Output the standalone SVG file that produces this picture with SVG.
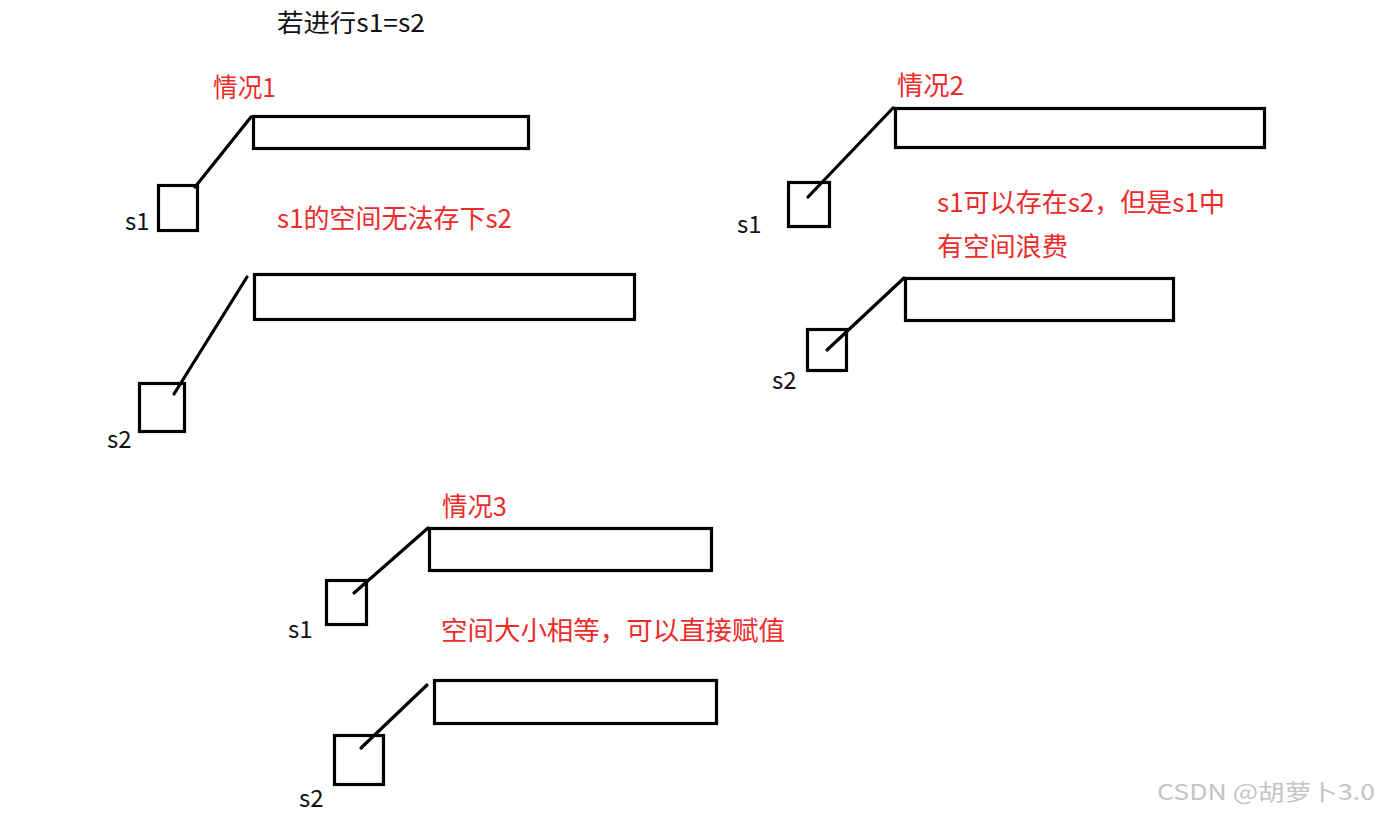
<svg xmlns="http://www.w3.org/2000/svg" width="1379" height="815" viewBox="0 0 1379 815">
<style>
.box{fill:none;stroke:#000;stroke-width:3.2}
.ln{stroke:#000;stroke-width:3.2;stroke-linecap:round}
.t{font-family:"Microsoft YaHei","Noto Sans CJK SC","Noto Sans",sans-serif;font-size:24px;fill:#111}
.r{font-family:"Microsoft YaHei","Noto Sans CJK SC","Noto Sans",sans-serif;font-size:26px;fill:#ee2b2b}
.wm{font-family:"Noto Sans CJK SC","Noto Sans",sans-serif;font-size:22px;fill:#c4c4c4}
</style>
<rect width="1379" height="815" fill="#fff"/>
<text class="t" x="277" y="32" style="font-size:25px" textLength="148" lengthAdjust="spacingAndGlyphs">若进行s1=s2</text>

<g id="case1">
  <text class="r" x="213" y="97" textLength="63" lengthAdjust="spacingAndGlyphs">情况1</text>
  <text class="r" x="277" y="228" textLength="235" lengthAdjust="spacingAndGlyphs">s1的空间无法存下s2</text>
  <g id="c1-s1"><rect class="box" x="158.5" y="185.5" width="39" height="45"/><text class="t" x="125" y="230">s1</text></g>
  <g id="c1-s1-buf"><rect class="box" x="253.5" y="116.5" width="275" height="32"/></g>
  <g id="c1-s2"><rect class="box" x="139.5" y="383.5" width="45" height="48"/><text class="t" x="107" y="448">s2</text></g>
  <g id="c1-s2-buf"><rect class="box" x="254.5" y="274.5" width="380" height="45"/></g>
</g>

<g id="case2">
  <text class="r" x="897" y="95" textLength="67" lengthAdjust="spacingAndGlyphs">情况2</text>
  <text class="r" x="937" y="212" textLength="288" lengthAdjust="spacingAndGlyphs">s1可以存在s2，但是s1中</text>
  <text class="r" x="937" y="256" textLength="131" lengthAdjust="spacingAndGlyphs">有空间浪费</text>
  <g id="c2-s1"><rect class="box" x="788.5" y="182.5" width="41" height="44"/><text class="t" x="737" y="233">s1</text></g>
  <g id="c2-s1-buf"><rect class="box" x="895.5" y="108.5" width="369" height="39"/></g>
  <g id="c2-s2"><rect class="box" x="807.5" y="329.5" width="39" height="41"/><text class="t" x="772" y="389">s2</text></g>
  <g id="c2-s2-buf"><rect class="box" x="905.5" y="278.5" width="268" height="42"/></g>
</g>

<g id="case3">
  <text class="r" x="442" y="516" textLength="65" lengthAdjust="spacingAndGlyphs">情况3</text>
  <text class="r" x="441" y="640" textLength="344" lengthAdjust="spacingAndGlyphs">空间大小相等，可以直接赋值</text>
  <g id="c3-s1"><rect class="box" x="326.5" y="580.5" width="40" height="44"/><text class="t" x="288" y="638">s1</text></g>
  <g id="c3-s1-buf"><rect class="box" x="429.5" y="528.5" width="282" height="42"/></g>
  <g id="c3-s2"><rect class="box" x="334.5" y="735.5" width="49" height="49"/><text class="t" x="299" y="807">s2</text></g>
  <g id="c3-s2-buf"><rect class="box" x="434.5" y="680.5" width="282" height="43"/></g>
</g>

<g id="connectors">
  <line class="ln" x1="195" y1="187" x2="251" y2="117"/>
  <line class="ln" x1="174" y1="394" x2="247" y2="277"/>
  <line class="ln" x1="808" y1="197" x2="893" y2="108"/>
  <line class="ln" x1="827" y1="350" x2="904" y2="278"/>
  <line class="ln" x1="354" y1="593" x2="428" y2="528"/>
  <line class="ln" x1="361" y1="748" x2="427" y2="685"/>
</g>

<text class="wm" x="1157" y="800" textLength="218" lengthAdjust="spacingAndGlyphs">CSDN @胡萝卜3.0</text>
</svg>
